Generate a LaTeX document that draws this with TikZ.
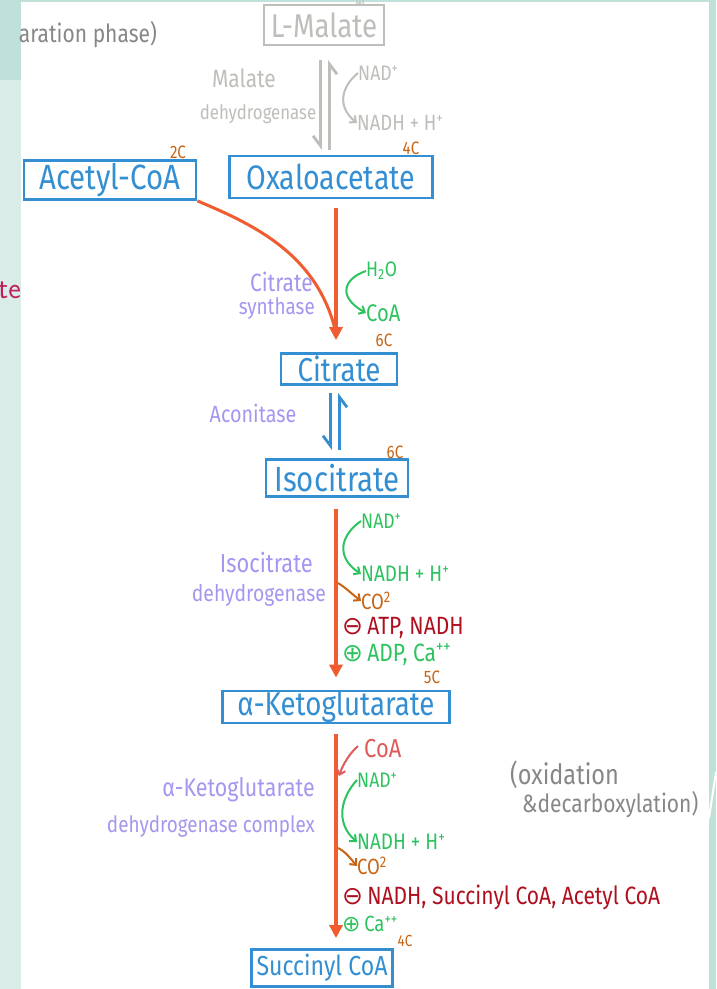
\documentclass[tikz,border=0pt]{standalone}
\usepackage{fontspec}
\setmainfont{Fira Sans}[FakeStretch=0.84]
\newfontfamily\symfont{DejaVu Sans}
\usetikzlibrary{arrows.meta}
\newcommand\fsz[1]{\fontsize{#1}{#1}\selectfont}
\definecolor{boxblue}{RGB}{52,142,210}
\definecolor{arrorange}{RGB}{240,92,48}
\definecolor{carbon}{RGB}{200,100,20}
\definecolor{enzpurple}{RGB}{165,150,240}
\definecolor{cofgreen}{RGB}{45,195,95}
\definecolor{inhred}{RGB}{175,15,30}
\definecolor{coared}{RGB}{225,90,90}
\definecolor{malgray}{RGB}{190,190,186}
\definecolor{notegray}{RGB}{135,135,135}
\definecolor{tealdark}{RGB}{192,224,218}
\definecolor{teallight}{RGB}{218,236,232}
\definecolor{crimson}{RGB}{192,30,92}
\begin{document}
\begin{tikzpicture}[x=1pt,y=-1pt,
  mbox/.style={draw=boxblue,line width=2.8pt,text=boxblue,inner sep=0pt},
  graybox/.style={draw=malgray,line width=2.8pt,text=malgray,inner sep=0pt},
  carb/.style={text=carbon,font=\fsz{18},inner sep=0pt},
  enz/.style={text=enzpurple,inner sep=0pt},
  cof/.style={text=cofgreen,font=\fsz{21},inner sep=0pt},
  grl/.style={text=malgray,inner sep=0pt},
  reg/.style={font=\fsz{25},inner sep=0pt},
  note/.style={text=notegray,inner sep=0pt},
  mainarr/.style={draw=arrorange,line width=3.2pt,-{Triangle[length=13pt,width=13pt]}},
  curvearr/.style={line width=2pt,-{Straight Barb[length=5pt,width=9pt]}},
  harp/.style={line width=2.8pt,-{Straight Barb[right,length=10pt,width=15pt]}}
]
\useasboundingbox (0,0) rectangle (716,989);
\fill[white] (0,0) rectangle (716,989);

% background strips
\fill[tealdark] (0,0) rectangle (21,80);
\fill[teallight] (0,80) rectangle (21,989);
\fill[tealdark] (0,0) rectangle (716,1.5);
\fill[tealdark] (709,0) rectangle (716,989);
\draw[white,line width=2pt] (716,772) -- (709,818);
\node[text=crimson,font=\fsz{30}\sffamily,anchor=east,inner sep=0pt] (frag) at (21,290) {te};

% top-left note
\node[note,font=\fsz{25},anchor=east] (phase) at (157,35) {aration phase)};

\coordinate (axis) at (336,0);

% L-Malate
\node[graybox,font=\fsz{33},minimum width=120,minimum height=40] (malate) at (324,25) {L-Malate};
\node[carb,text=malgray,font=\fsz{14}] (c0) at (362,2) {4C};
\node[grl,font=\fsz{25}] (md1) at (244,78) {Malate};
\node[grl,font=\fsz{20}] (md2) at (258,114) {dehydrogenase};
\node[grl,font=\fsz{21},anchor=west] (gnad) at (358,73) {NAD\textsuperscript{+}};
\node[grl,font=\fsz{22},anchor=west] (gnadh) at (357,123) {NADH + H\textsuperscript{+}};
\coordinate (mtop) at (325,60);
\coordinate (mbot) at (325,150);
\draw[harp,draw=malgray] ([xshift=-4.5pt]mtop) -- ([xshift=-4.5pt]mbot);
\draw[harp,draw=malgray] ([xshift=4.5pt]mbot) -- ([xshift=4.5pt]mtop);
\draw[curvearr,draw=malgray] (gnad.west) .. controls (342,86) and (336,106) .. (gnadh.west);

% Acetyl-CoA and Oxaloacetate
\node[mbox,font=\fsz{35},minimum width=172,minimum height=39] (acetyl) at (110,180) {Acetyl-CoA};
\node[carb] (c1) at (178,152) {2C};
\node[mbox,font=\fsz{34},minimum width=203,minimum height=42] (oxalo) at (331,177) {Oxaloacetate};
\node[carb] (c2) at (411,148) {4C};

% Citrate
\node[mbox,font=\fsz{33},minimum width=116,minimum height=31] (citrate) at (339,369) {Citrate};
\node[carb] (c3) at (384,340) {6C};
\draw[mainarr] ([yshift=-9pt]oxalo.south -| axis) -- ([yshift=12pt]citrate.north -| axis);
\draw[draw=arrorange,line width=3pt] (acetyl.south east) .. controls (255,225) and (318,255) .. (336,333);
\node[enz,font=\fsz{25},anchor=east] (cs1) at (313,282) {Citrate};
\node[enz,font=\fsz{22.5},anchor=east] (cs2) at (315,308) {synthase};
\node[cof,anchor=west] (h2o) at (366,271) {H\textsubscript{2}O};
\node[cof,font=\fsz{24},anchor=west] (coa1) at (366,313) {CoA};
\draw[curvearr,draw=cofgreen] (h2o.west) .. controls (345,278) and (336,296) .. (coa1.west);

% Aconitase
\node[enz,font=\fsz{23.5}] (acon) at (253,413) {Aconitase};
\node[mbox,font=\fsz{35},minimum width=142,minimum height=37] (isocit) at (337,478) {Isocitrate};
\node[carb] (c4) at (395,452) {6C};
\coordinate (atop) at (335,393);
\coordinate (abot) at (335,450);
\draw[harp,draw=boxblue] ([xshift=-4.5pt]atop) -- ([xshift=-4.5pt]abot);
\draw[harp,draw=boxblue] ([xshift=4.5pt]abot) -- ([xshift=4.5pt]atop);

% Isocitrate dehydrogenase step
\node[mbox,font=\fsz{33},minimum width=227,minimum height=32] (akg) at (336,707) {α-Ketoglutarate};
\node[carb] (c5) at (432,677) {5C};
\draw[mainarr] ([yshift=-11pt]isocit.south -| axis) -- ([yshift=12pt]akg.north -| axis);
\node[enz,font=\fsz{26},anchor=east] (id1) at (313,563) {Isocitrate};
\node[enz,font=\fsz{23},anchor=east] (id2) at (326,595) {dehydrogenase};
\node[cof,anchor=west] (nad2) at (361,521) {NAD\textsuperscript{+}};
\node[cof,font=\fsz{22.5},anchor=west] (nadh2) at (361,574) {NADH + H\textsuperscript{+}};
\node[cof,font=\fsz{22},anchor=west,text=carbon] (co2a) at (361,601) {CO\textsuperscript{2}};
\draw[curvearr,draw=cofgreen] (nad2.west) .. controls (342,534) and (334,556) .. (nadh2.west);
\draw[curvearr,draw=carbon] (338,583) .. controls (346,588) and (352,594) .. (co2a.west);
\node[reg,anchor=west,text=inhred] (inh1) at (342,628) {{\symfont ⊖}\,ATP, NADH};
\node[reg,anchor=west,text=cofgreen] (act1) at (342,655) {{\symfont ⊕}\,ADP, Ca\textsuperscript{++}};

% alpha-KG dehydrogenase step
\node[mbox,font=\fsz{27.5},minimum width=141,minimum height=37] (succ) at (322,968) {Succinyl CoA};
\node[carb,font=\fsz{16}] (c6) at (405,941) {4C};
\draw[mainarr] ([yshift=-10pt]akg.south -| axis) -- ([yshift=10pt]succ.north -| axis);
\node[enz,font=\fsz{25.5},anchor=east] (kd1) at (315,790) {α-Ketoglutarate};
\node[enz,font=\fsz{22.5},anchor=east] (kd2) at (315,826) {dehydrogenase complex};
\node[cof,anchor=west,text=coared,font=\fsz{26}] (coa2) at (364,749) {CoA};
\node[cof,anchor=west] (nad3) at (357,780) {NAD\textsuperscript{+}};
\node[cof,font=\fsz{22.5},anchor=west] (nadh3) at (357,842) {NADH + H\textsuperscript{+}};
\node[cof,font=\fsz{22},anchor=west,text=carbon] (co2b) at (357,866) {CO\textsuperscript{2}};
\draw[curvearr,draw=coared] (358,746) .. controls (350,753) and (343,764) .. (339,776);
\draw[curvearr,draw=cofgreen] (nad3.west) .. controls (342,796) and (334,822) .. (nadh3.west);
\draw[curvearr,draw=carbon] (338,848) .. controls (346,852) and (350,858) .. (co2b.west);
\node[reg,font=\fsz{25},anchor=west,text=inhred] (inh2) at (342,897) {{\symfont ⊖}\,NADH, Succinyl CoA, Acetyl CoA};
\node[reg,font=\fsz{22},anchor=west,text=cofgreen] (act2) at (342,924) {{\symfont ⊕}\,Ca\textsuperscript{++}};
\node[note,font=\fsz{28},anchor=west] (ox1) at (510,775) {(oxidation};
\node[note,font=\fsz{25},anchor=west] (ox2) at (522,805) {\&decarboxylation)};
\end{tikzpicture}
\end{document}
